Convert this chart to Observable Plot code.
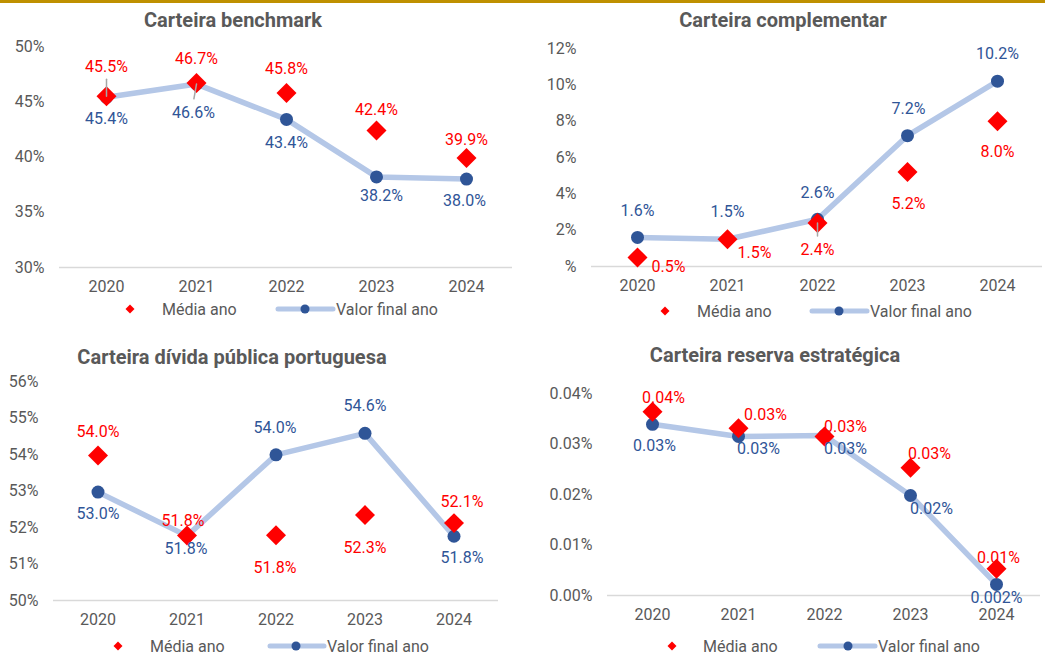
<!DOCTYPE html>
<html>
<head>
<meta charset="utf-8">
<script src="https://cdn.jsdelivr.net/npm/d3@7"></script>
<script src="https://cdn.jsdelivr.net/npm/@observablehq/plot@0.6"></script>
<style>
  body { margin: 0; background: #fff; font-family: Roboto, "Liberation Sans", sans-serif; }
  #root { position: relative; width: 1045px; height: 657px; overflow: hidden; background: #fff; }
  .bar { position: absolute; left: 0; top: 0; width: 1045px; height: 3px; background: #BF9000; }
  .panel { position: absolute; }
  .title { position: absolute; font-weight: bold; font-size: 20px; color: #595959; transform: translate(-50%, -50%); white-space: nowrap; }
  .legtext { position: absolute; font-size: 16px; color: #595959; transform: translateY(-50%); white-space: nowrap; }
  .legsw { position: absolute; overflow: visible; }
</style>
</head>
<body>
<div id="root"><div class="bar"></div></div>
<script>
// ---------- DATA ----------
const years = ["2020", "2021", "2022", "2023", "2024"];
const seriesNames = ["Média ano", "Valor final ano"];

const benchMedia = [45.5, 46.7, 45.8, 42.4, 39.9];
const benchFinal = [45.4, 46.6, 43.4, 38.2, 38.0];
const benchTicks = [30, 35, 40, 45, 50];
const benchTickLabels = ["30%", "35%", "40%", "45%", "50%"];

const compMedia = [0.5, 1.5, 2.4, 5.2, 8.0];
const compFinal = [1.6, 1.5, 2.6, 7.2, 10.2];
const compTicks = [0, 2, 4, 6, 8, 10, 12];
const compTickLabels = ["%", "2%", "4%", "6%", "8%", "10%", "12%"];

const divMedia = [53.97, 51.78, 51.79, 52.34, 52.12];
const divFinal = [52.97, 51.77, 53.99, 54.58, 51.76];
const divTicks = [50, 51, 52, 53, 54, 55, 56];
const divTickLabels = ["50%", "51%", "52%", "53%", "54%", "55%", "56%"];

const resMedia = [0.0364, 0.0331, 0.0315, 0.0253, 0.0053];
const resFinal = [0.0339, 0.0315, 0.0317, 0.0198, 0.0022];
const resMediaLabels = ["0.04%", "0.03%", "0.03%", "0.03%", "0.01%"];
const resFinalLabels = ["0.03%", "0.03%", "0.03%", "0.02%", "0.002%"];
const resTicks = [0, 0.01, 0.02, 0.03, 0.04];
const resTickLabels = ["0.00%", "0.01%", "0.02%", "0.03%", "0.04%"];

const pct1 = v => v.toFixed(1) + "%";

// ---------- STYLE / LAYOUT ----------
const RED = "#FF0000", BLUE = "#2F5597", LIGHT = "#B4C7E7", GRAY = "#595959", BASE = "#D9D9D9", LEAD = "#A6A6A6";
const FONT = "Roboto, 'Liberation Sans', sans-serif";

const panels = [
  {
    title: "Carteira benchmark", titleX: 233, titleY: 20,
    left: 0, top: 30, width: 520, height: 270, mL: 59, mR: 8, mT: 16, mB: 33,
    domain: [30, 50], ticks: benchTicks, tickLabels: benchTickLabels,
    media: benchMedia, final: benchFinal,
    mediaLabels: benchMedia.map(pct1), finalLabels: benchFinal.map(pct1),
    mediaOff: [[0, -29], [0, -24], [0, -24], [0, -21], [0, -18]],
    finalOff: [[0, 22], [-3, 29], [0, 23], [5, 19], [-2, 22]],
    leaders: [{s: "media", i: 0, len: 17, rot: 0}, {s: "final", i: 1, len: 15, rot: 190}],
    legY: 309, legDia: 130, legT1: 162, legL1: 278, legL2: 333, legDot: 305, legT2: 336
  },
  {
    title: "Carteira complementar", titleX: 783, titleY: 20,
    left: 520, top: 30, width: 525, height: 270, mL: 71, mR: 3, mT: 18, mB: 34,
    domain: [0, 12], ticks: compTicks, tickLabels: compTickLabels,
    media: compMedia, final: compFinal,
    mediaLabels: compMedia.map(pct1), finalLabels: compFinal.map(pct1),
    mediaOff: [[31, 9], [27, 14], [0, 27], [1, 32], [0, 31]],
    finalOff: [[0, -27], [0, -27], [0, -26], [1, -27], [0, -27]],
    leaders: [{s: "media", i: 2, len: 13, rot: 180}],
    legY: 311, legDia: 665, legT1: 697, legL1: 812, legL2: 867, legDot: 839, legT2: 870
  },
  {
    title: "Carteira dívida pública portuguesa", titleX: 232, titleY: 357,
    left: 0, top: 365, width: 520, height: 270, mL: 53, mR: 22, mT: 16, mB: 35,
    domain: [50, 56], ticks: divTicks, tickLabels: divTickLabels,
    media: divMedia, final: divFinal,
    mediaLabels: divMedia.map(pct1), finalLabels: divFinal.map(pct1),
    mediaOff: [[0, -24], [-4, -15], [-1, 33], [0, 33], [8, -21]],
    finalOff: [[0, 22], [-1, 13], [-1, -27], [0, -27], [8, 22]],
    leaders: [],
    legY: 646, legDia: 118, legT1: 150, legL1: 270, legL2: 324, legDot: 296, legT2: 327
  },
  {
    title: "Carteira reserva estratégica", titleX: 775, titleY: 355,
    left: 520, top: 365, width: 525, height: 270, mL: 87, mR: 5, mT: 28, mB: 40,
    domain: [0, 0.04], ticks: resTicks, tickLabels: resTickLabels,
    media: resMedia, final: resFinal,
    mediaLabels: resMediaLabels, finalLabels: resFinalLabels,
    mediaOff: [[11, -14], [27, -13], [21, -10], [19, -14], [2, -11]],
    finalOff: [[2, 22], [20, 12], [21, 13], [21, 13], [0, 13]],
    leaders: [],
    legY: 646, legDia: 672, legT1: 703, legL1: 820, legL2: 875, legDot: 848, legT2: 878
  }
];

const leaderShape = { draw(ctx, l) { ctx.moveTo(0, 0); ctx.lineTo(0, -l); } };
const root = document.getElementById("root");

for (const p of panels) {
  const idx = d3.range(years.length);
  const labelMarks = (vals, labels, offs, color) => idx.map(i =>
    Plot.text([i], {
      x: d => years[d], y: d => vals[d], text: d => labels[d],
      dx: offs[i][0], dy: offs[i][1], fill: color, fontSize: 16
    }));
  const leaderMarks = p.leaders.map(L => Plot.vector([L.i], {
    x: d => years[d], y: d => (L.s === "media" ? p.media : p.final)[d],
    length: L.len, rotate: L.rot, anchor: "start", shape: leaderShape,
    stroke: LEAD, strokeWidth: 1.5
  }));

  const chart = Plot.plot({
    width: p.width, height: p.height,
    marginLeft: p.mL, marginRight: p.mR, marginTop: p.mT, marginBottom: p.mB,
    style: { fontFamily: FONT, fontSize: "16px", color: GRAY, background: "transparent", overflow: "visible" },
    x: { type: "band", domain: years, padding: 0 },
    y: { domain: p.domain },
    marks: [
      Plot.ruleY([p.domain[0]], { stroke: BASE, strokeWidth: 1.5 }),
      Plot.axisY({ ticks: p.ticks, tickFormat: d => p.tickLabels[p.ticks.indexOf(d)], tickSize: 0, tickPadding: 15, fontSize: 16, label: null }),
      Plot.axisX({ tickSize: 0, tickPadding: 13, fontSize: 16, label: null }),
      Plot.line(idx, { x: d => years[d], y: d => p.final[d], stroke: LIGHT, strokeWidth: 5.5, strokeLinejoin: "round" }),
      Plot.dot(idx, { x: d => years[d], y: d => p.final[d], r: 6.5, fill: BLUE }),
      Plot.dot(idx, { x: d => years[d], y: d => p.media[d], symbol: "diamond2", r: 9, fill: RED }),
      ...leaderMarks,
      ...labelMarks(p.media, p.mediaLabels, p.mediaOff, RED),
      ...labelMarks(p.final, p.finalLabels, p.finalOff, BLUE)
    ]
  });
  const wrap = document.createElement("div");
  wrap.className = "panel";
  wrap.style.left = p.left + "px";
  wrap.style.top = p.top + "px";
  wrap.appendChild(chart);
  root.appendChild(wrap);

  // title
  const t = document.createElement("div");
  t.className = "title";
  t.style.left = p.titleX + "px";
  t.style.top = p.titleY + "px";
  t.textContent = p.title;
  root.appendChild(t);

  // legend swatches
  const sw = d3.select(root).append("svg").attr("class", "legsw")
    .style("left", "0px").style("top", "0px").attr("width", 1045).attr("height", 657)
    .style("pointer-events", "none");
  const ds = 4.5;
  sw.append("path")
    .attr("d", `M${p.legDia},${p.legY - ds}L${p.legDia + ds},${p.legY}L${p.legDia},${p.legY + ds}L${p.legDia - ds},${p.legY}Z`)
    .attr("fill", RED);
  sw.append("line").attr("x1", p.legL1).attr("x2", p.legL2).attr("y1", p.legY).attr("y2", p.legY)
    .attr("stroke", LIGHT).attr("stroke-width", 5).attr("stroke-linecap", "round");
  sw.append("circle").attr("cx", p.legDot).attr("cy", p.legY).attr("r", 4.5).attr("fill", BLUE);

  const l1 = document.createElement("div");
  l1.className = "legtext";
  l1.style.left = p.legT1 + "px"; l1.style.top = p.legY + "px";
  l1.textContent = seriesNames[0];
  root.appendChild(l1);
  const l2 = document.createElement("div");
  l2.className = "legtext";
  l2.style.left = p.legT2 + "px"; l2.style.top = p.legY + "px";
  l2.textContent = seriesNames[1];
  root.appendChild(l2);
}
</script>
</body>
</html>
